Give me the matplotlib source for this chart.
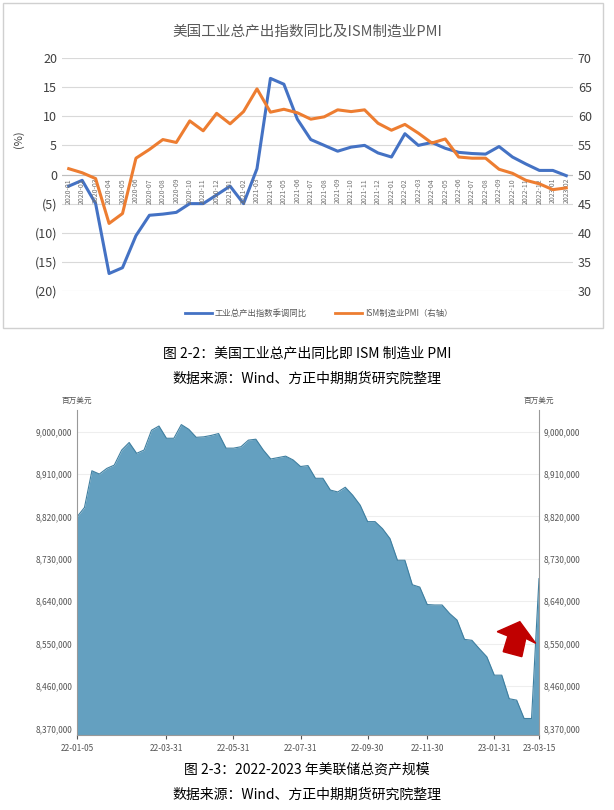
import numpy as np
import pandas as pd
import matplotlib.pyplot as plt
from matplotlib.patches import Rectangle, Polygon

plt.rcParams['font.family'] = ['Noto Sans CJK SC', 'DejaVu Sans']

# ---- chart 1 data ----
months = [f"{y}-{m:02d}" for y in (2020, 2021, 2022) for m in range(1, 13)] + ["2023-01", "2023-02"]
ip_yoy = [-2, -1, -5, -17, -16, -10.5, -7, -6.8, -6.5, -5, -5, -3.5,
          -2, -5, 1, 16.5, 15.5, 9.5, 6, 5, 4, 4.7, 5, 3.7,
          3, 7, 5, 5.5, 4.5, 3.8, 3.6, 3.5, 4.8, 3, 1.8, 0.7,
          0.7, -0.2]
ism_pmi = [51, 50.3, 49.3, 41.6, 43.3, 52.8, 54.3, 56, 55.5, 59.2, 57.5, 60.5,
           58.7, 60.8, 64.7, 60.7, 61.2, 60.6, 59.5, 59.9, 61.1, 60.8, 61.1, 58.8,
           57.6, 58.6, 57.1, 55.4, 56.1, 53, 52.8, 52.8, 50.9, 50.2, 49, 48.4,
           47.4, 47.7]

# ---- chart 2 data (weekly, 百万美元) ----
fed_dates = pd.date_range("2022-01-05", periods=63, freq="7D")
fed_assets = [8819000, 8839000, 8917000, 8910000, 8922000, 8929000, 8961000, 8977000,
              8954000, 8961000, 9003000, 9012000, 8986000, 8986000, 9015000, 9005000,
              8988000, 8989000, 8992000, 8996000, 8965000, 8965000, 8968000, 8982000,
              8984000, 8961000, 8942000, 8945000, 8948000, 8940000, 8926000, 8928000,
              8901000, 8901000, 8876000, 8872000, 8882000, 8865000, 8844000, 8809000,
              8809000, 8794000, 8773000, 8727000, 8727000, 8675000, 8670000, 8633000,
              8632000, 8632000, 8614000, 8600000, 8559000, 8557000, 8539000, 8522000,
              8483000, 8483000, 8433000, 8430000, 8391000, 8391000, 8688000]
fed_ticks = ["2022-01-05", "2022-03-30", "2022-06-01", "2022-08-03", "2022-10-05",
             "2022-11-30", "2023-02-01", "2023-03-15"]
fed_tick_labels = ["22-01-05", "22-03-31", "22-05-31", "22-07-31", "22-09-30",
                   "22-11-30", "23-01-31", "23-03-15"]

W, H = 614, 810
fig = plt.figure(figsize=(W / 100, H / 100), dpi=100)
fig.patches.append(Rectangle((3 / W, 1 - 328 / H), 600 / W, 325 / H, transform=fig.transFigure,
                             fill=False, edgecolor='#d0d0d0', lw=1))

# ---------- top chart ----------
ax = fig.add_axes([62 / W, 1 - 291 / H, 511 / W, 233 / H])
x = np.arange(len(months))
ax2 = ax.twinx()
ax.plot(x, ip_yoy, color='#4472c4', lw=2.2, zorder=3)
ax2.plot(x, ism_pmi, color='#ed7d31', lw=2.2)
ax.set_ylim(-20, 20)
ax2.set_ylim(30, 70)
ax.set_xlim(-0.5, len(months) - 0.5)
ax.set_yticks(range(-20, 21, 5))
ax.set_yticklabels([f"({abs(v)})" if v < 0 else str(v) for v in range(-20, 21, 5)])
for t, v in zip(ax.get_yticklabels(), range(-20, 21, 5)):
    t.set_color('#c00000' if v < 0 else '#404040')
ax2.set_yticks(range(30, 71, 5))
ax.set_xticks([])
for a in (ax, ax2):
    for s in a.spines.values():
        s.set_visible(False)
    a.tick_params(length=0, labelsize=9, colors='#404040')
ax.grid(axis='y', color='#d9d9d9', lw=0.8)
ax.axhline(0, color='#bfbfbf', lw=0.8)
for i, m in enumerate(months):
    ax.text(i, -0.6, m, rotation=90, ha='center', va='top', fontsize=5, color='#707070')
ax.text(-0.085, 0.65, "(%)", transform=ax.transAxes, rotation=90, fontsize=8, color='#404040',
        ha='center', va='center')
fig.text(0.5, 1 - 32 / H, "美国工业总产出指数同比及ISM制造业PMI", ha='center', va='center',
         fontsize=10.5, color='#595959')
fig.lines.append(plt.Line2D([185 / W, 212 / W], [1 - 313 / H] * 2, transform=fig.transFigure,
                            color='#4472c4', lw=2))
fig.text(215 / W, 1 - 313 / H, "工业总产出指数季调同比", fontsize=6, color='#595959', va='center')
fig.lines.append(plt.Line2D([335 / W, 362 / W], [1 - 313 / H] * 2, transform=fig.transFigure,
                            color='#ed7d31', lw=2))
fig.text(365 / W, 1 - 313 / H, "ISM制造业PMI（右轴）", fontsize=6, color='#595959', va='center')

fig.text(0.5, 1 - 353 / H, "图 2-2：美国工业总产出同比即 ISM 制造业 PMI", ha='center', va='center', fontsize=10)
fig.text(0.5, 1 - 379 / H, "数据来源：Wind、方正中期期货研究院整理", ha='center', va='center', fontsize=10)

# ---------- bottom chart ----------
L, R = 77, 539
bx = fig.add_axes([L / W, 1 - 735 / H, (R - L) / W, 325 / H])
bx.set_axisbelow(True)
bx.fill_between(fed_dates, fed_assets, 8356000, color='#64a0c0', lw=0)
bx.plot(fed_dates, fed_assets, color='#3f7fa0', lw=0.8)
bx.set_ylim(8356000, 9046000)
bx.set_xlim(fed_dates[0], fed_dates[-1])
yt = list(range(8370000, 9000001, 90000))
bx.set_yticks(yt)
bx.set_yticklabels([f"{v:,}" for v in yt])
bx.grid(axis='y', color='#eeeeee', lw=0.8)
bx.set_xticks(pd.to_datetime(fed_ticks))
bx.set_xticklabels(fed_tick_labels)
bx.tick_params(labelsize=6, colors='#555555', length=3)
bx.tick_params(axis='y', length=0)
for s in ('top', 'right'):
    bx.spines[s].set_visible(False)
bx.spines['left'].set_color('#999999')
bx.spines['bottom'].set_color('#999999')
bb = bx.twinx()
bb.set_ylim(bx.get_ylim())
bb.set_yticks(yt)
bb.set_yticklabels([f"{v:,}" for v in yt])
bb.tick_params(labelsize=6, colors='#555555', length=0)
for s in ('top', 'left', 'bottom'):
    bb.spines[s].set_visible(False)
bb.spines['right'].set_color('#999999')
fig.text(L / W, 1 - 401 / H, "百万美元", ha='center', va='center', fontsize=5.5, color='#555555')
fig.text(R / W, 1 - 401 / H, "百万美元", ha='center', va='center', fontsize=5.5, color='#555555')
# red arrow annotation (zoom-crop coordinates -> page pixels)
arrow = [(1310, 695), (1350, 760), (1325, 745), (1315, 800), (1268, 785), (1280, 738), (1253, 725)]
fig.patches.append(Polygon([(px / 2.52 / W, 1 - (py / 3 + 390) / H) for px, py in arrow],
                           closed=True, transform=fig.transFigure, color='#c00000'))

fig.text(0.5, 1 - 769 / H, "图 2-3：2022-2023 年美联储总资产规模", ha='center', va='center', fontsize=10)
fig.text(0.5, 1 - 795 / H, "数据来源：Wind、方正中期期货研究院整理", ha='center', va='center', fontsize=10)

fig.savefig("out.png", dpi=100)
